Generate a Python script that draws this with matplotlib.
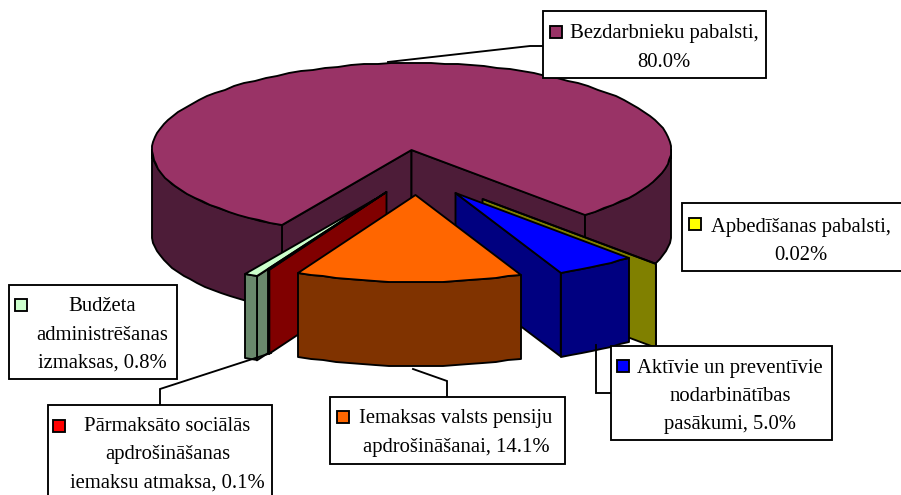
import numpy as np
import matplotlib
matplotlib.use("Agg")
import matplotlib.pyplot as plt
from matplotlib.patches import Polygon, Rectangle

# data
names = ["Bezdarbnieku pabalsti,\n80.0%",
         "Apbedīšanas pabalsti,\n0.02%",
         "Aktīvie un preventīvie\nnodarbinātības\npasākumi, 5.0%",
         "Iemaksas valsts pensiju\napdrošināšanai, 14.1%",
         "Pārmaksāto sociālās\napdrošināšanas\niemaksu atmaksa, 0.1%",
         "Budžeta\nadministrēšanas\nizmaksas, 0.8%"]
values = [80.0, 0.02, 5.0, 14.1, 0.1, 0.8]
top_colors = ["#993366", "#FFFF00", "#0000FF", "#FF6600", "#FF0000", "#CCFFCC"]
side_colors = ["#4D1C38", "#808000", "#000080", "#803300", "#800000", "#69896C"]

# layout (pixel coordinates of the figure)
CX, CY, RX, RY, DEPTH = 411.5, 150, 259.5, 87, 84
START = 210.0
offsets = [(0, 0), (71, 49), (44, 43), (4, 45), (-25, 42), (-36, 49)]
paint_order = [0, 1, 5, 4, 2, 3]
boxes = [(543, 11, 766, 78), (682, 203, 906, 271), (611, 346, 832, 440),
         (330, 397, 565, 464), (48, 405, 272, 500), (9, 285, 177, 379)]
text_pos = [(664, 48), (801, 241.5), (730, 396.5), (456, 433), (167.5, 455), (102, 335)]
key_pos = [(550, 26), (689, 218), (617, 360), (337, 411), (53, 420), (15, 299)]
leaders = [[(388, 62), (530, 46), (544, 46)],
           [(611, 393), (596, 393), (596, 345)],
           [(447, 397), (447, 381), (413, 369)],
           [(160, 405), (160, 389), (271, 353)]]

LW = 1.35
plt.rcParams["font.family"] = ["Liberation Serif", "DejaVu Serif"]
fig = plt.figure(figsize=(9.01, 4.95), dpi=100)
ax = fig.add_axes([0, 0, 1, 1])
ax.set_xlim(0, 901)
ax.set_ylim(495, 0)
ax.axis("off")


def pt(theta, cx, cy):
    t = np.radians(theta)
    return cx + RX * np.sin(t), cy - RY * np.cos(t)


def arc(t1, t2, cx, cy):
    ts = np.linspace(t1, t2, max(2, int(abs(t2 - t1) / 3) + 2))
    xs, ys = pt(ts, cx, cy)
    return list(zip(np.round(xs), np.round(ys)))


def poly(pts, color, z):
    ax.add_patch(Polygon(pts, closed=True, facecolor=color, edgecolor="black",
                         linewidth=LW, joinstyle="round", zorder=z))


spans = []
a = START
for v in values:
    b = a + v * 3.6
    spans.append((a, b))
    a = b

z = 2
for i in paint_order:
    t1, t2 = spans[i]
    dx, dy = offsets[i]
    cx, cy = CX + dx, CY + dy
    top, side = top_colors[i], side_colors[i]
    # cut faces
    for th, visible in ((t1, np.sin(np.radians(t1)) < 0), (t2, np.sin(np.radians(t2)) > 0)):
        if visible:
            ox, oy = pt(th, cx, cy)
            poly([(cx, cy), (ox, oy), (ox, oy + DEPTH), (cx, cy + DEPTH)], side, z)
            z += 1
    # outer wall (front half only)
    for k in (0, 1):
        lo, hi = max(t1, 90 + 360 * k), min(t2, 270 + 360 * k)
        if hi > lo:
            upper = arc(lo, hi, cx, cy)
            lower = [(x, y + DEPTH) for x, y in upper][::-1]
            poly(upper + lower, side, z)
            z += 1
    # top surface
    poly([(cx, cy)] + arc(t1, t2, cx, cy), top, z)
    z += 1

for line in leaders:
    xs, ys = zip(*line)
    ax.plot(xs, ys, color="black", lw=LW, zorder=z, solid_joinstyle="miter")
z += 1

for name, box, tp, kp, col in zip(names, boxes, text_pos, key_pos, top_colors):
    x0, y0, x1, y1 = box
    ax.add_patch(Rectangle((x0, y0), x1 - x0, y1 - y0, facecolor="white", edgecolor="black",
                           linewidth=LW, zorder=z, clip_on=True))
    ax.add_patch(Rectangle(kp, 12, 12, facecolor=col, edgecolor="black", linewidth=LW, zorder=z + 1))
    ax.text(tp[0], tp[1], name, ha="center", va="center", multialignment="center",
            fontsize=14.9, linespacing=1.66, color="black", zorder=z + 1)

fig.savefig("out.png", dpi=100, facecolor="white")
